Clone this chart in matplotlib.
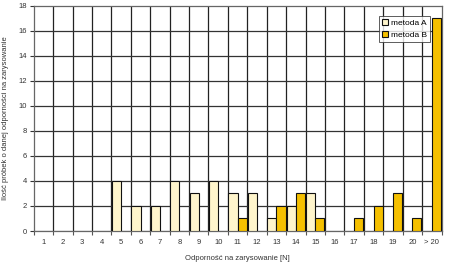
import matplotlib
matplotlib.use("Agg")
import matplotlib.pyplot as plt
import numpy as np

categories = [str(i) for i in range(1, 21)] + ["> 20"]
metoda_a = [0, 0, 0, 0, 4, 2, 2, 4, 3, 4, 3, 3, 1, 2, 3, 0, 0, 0, 0, 0, 0]
metoda_b = [0, 0, 0, 0, 0, 0, 0, 0, 0, 0, 1, 0, 2, 3, 1, 0, 1, 2, 3, 1, 17]

plt.rcParams['font.family'] = ['Liberation Sans', 'DejaVu Sans']

fig = plt.figure(figsize=(4.5, 2.77), dpi=100)
ax = fig.add_axes([33.7/450, 1 - 231/277, (441.5 - 33.7)/450, (231 - 5.7)/277])

x = np.arange(len(categories))
w = 0.47
ax.bar(x - w/2, metoda_a, width=w, color='#FFF5CC', edgecolor='#111111', linewidth=0.8,
       label='metoda A', zorder=3)
ax.bar(x + w/2, metoda_b, width=w, color='#F5C000', edgecolor='#111111', linewidth=0.8,
       label='metoda B', zorder=3)

ax.set_xlim(-0.5, len(categories) - 0.5)
ax.set_ylim(0, 18)
ax.set_yticks(np.arange(0, 19, 2))
ax.set_xticks(x)
ax.set_xticklabels(categories)
ax.set_xticks(np.arange(-0.5, len(categories), 1), minor=True)
ax.tick_params(axis='x', which='major', length=0, labelsize=5.5, pad=6, colors='#333333')
ax.tick_params(axis='x', which='minor', length=3, width=0.8, color='#555555')
ax.tick_params(axis='y', length=3, width=0.8, labelsize=5.5, colors='#333333', pad=2)

for v in np.arange(0.5, len(categories) - 0.5, 1):
    ax.axvline(v, color='#222222', linewidth=0.9, zorder=1)
for h in np.arange(2, 18, 2):
    ax.axhline(h, color='#333333', linewidth=0.9, zorder=1)

for s in ax.spines.values():
    s.set_color('#666666')
    s.set_linewidth(0.9)

ax.set_xlabel('Odporność na zarysowanie [N]', fontsize=5.5, color='#333333', labelpad=6)
ax.set_ylabel('Ilość próbek o danej odporności na zarysowanie', fontsize=5.5, color='#333333')
ax.yaxis.set_label_coords((9 - 33.7) / 407.8, 0.5)

leg = ax.legend(loc='upper right', bbox_to_anchor=(0.972, 0.955), borderaxespad=0,
                fontsize=6, frameon=True,
                fancybox=False, edgecolor='#333333', handlelength=0.7, handleheight=0.7,
                handletextpad=0.3, borderpad=0.4, labelspacing=0.5)
leg.get_frame().set_linewidth(0.7)
leg.set_zorder(5)

fig.savefig('out.png', dpi=100)
